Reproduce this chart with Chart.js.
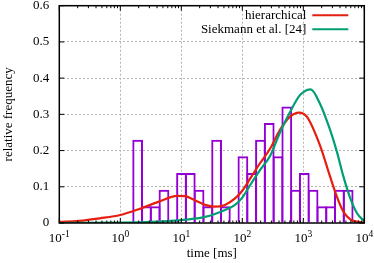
<!DOCTYPE html>
<html>
<head>
<meta charset="utf-8">
<script src="https://cdn.jsdelivr.net/npm/chart.js@4.4.1/dist/chart.umd.min.js"></script>
<style>
  body { margin: 0; background: #fff; }
  #wrap { width: 374px; height: 263px; }
</style>
</head>
<body>
<div id="wrap"><canvas id="chart" width="374" height="263"></canvas></div>
<script>
// histogram: bin centres [ms] and relative frequency of each bin
var binCentres = [1.925, 2.681, 3.733, 5.198, 7.239, 10.08, 14.04, 19.55, 27.22, 37.90,
                  52.79, 73.50, 102.3, 142.5, 198.5, 276.4, 384.8, 535.9, 746.2, 1039,
                  1447, 2015, 2806, 3907, 5441];
var binHeights = [0.23, 0.046, 0.046, 0.092, 0, 0.138, 0.138, 0.092, 0.046, 0.23,
                  0.046, 0, 0.184, 0.138, 0.23, 0.276, 0.184, 0.322, 0.092, 0.138,
                  0.092, 0.046, 0.046, 0.092, 0.092];

// fitted densities
var hierTimes  = [0.1, 0.21, 0.46, 1, 2, 4.3, 8.5, 11.5, 16.6, 24.5, 35.5, 52, 76, 100,
                  135, 195, 285, 415, 600, 850, 1150, 1870, 2750, 3550, 4550, 5900, 7600, 10000];
var hierValues = [0.003, 0.006, 0.013, 0.022, 0.038, 0.059, 0.075, 0.074, 0.063, 0.050, 0.045,
                  0.050, 0.068, 0.089, 0.123, 0.165, 0.205, 0.257, 0.293, 0.305, 0.293, 0.215,
                  0.128, 0.073, 0.031, 0.010, 0.004, 0.001];
var siekTimes  = [0.1, 1, 3.2, 10, 16.6, 24.5, 35.5, 52, 76, 100, 135, 195, 285, 415, 600,
                  880, 1150, 1320, 1870, 2750, 3550, 4550, 5900, 7600, 10000];
var siekValues = [0.000, 0.001, 0.003, 0.008, 0.012, 0.017, 0.025, 0.036, 0.050, 0.070, 0.105,
                  0.146, 0.185, 0.250, 0.305, 0.353, 0.367, 0.369, 0.330, 0.257, 0.197, 0.128,
                  0.068, 0.027, 0.005];

var xTicks = [0.1, 1, 10, 100, 1000, 10000];
var xTickExps = ['-1', '0', '1', '2', '3', '4'];
var seriesNames = ['hierarchical', 'Siekmann et al. [24]'];

var PURPLE = '#9400d3', RED = '#e51e10', GREEN = '#009e73';
var serif = "'Liberation Serif', 'Times New Roman', serif";

function pairs(xs, ys) {
  return xs.map(function (x, i) { return { x: x, y: ys[i] }; });
}

function gridColor(first, last) {
  return function (c) {
    var v = c.tick && c.tick.value;
    return (v === first || v === last) ? 'rgba(0,0,0,0)' : '#b4b4b4';
  };
}

// border, inward tick marks, 10^n labels and the key, gnuplot style
var framePlugin = {
  id: 'frame',
  afterDatasetsDraw: function (chart) {
    var ctx = chart.ctx, a = chart.chartArea;
    var xs = chart.scales.x, ys = chart.scales.y;
    ctx.save();
    ctx.strokeStyle = '#000';
    ctx.lineWidth = 1;
    ctx.beginPath();
    xTicks.forEach(function (v, i) {
      var px = xs.getPixelForValue(v);
      ctx.moveTo(px, a.bottom); ctx.lineTo(px, a.bottom - 5);
      ctx.moveTo(px, a.top); ctx.lineTo(px, a.top + 5);
      if (i < xTicks.length - 1) {
        for (var m = 2; m < 10; m++) {
          var mx = xs.getPixelForValue(v * m);
          ctx.moveTo(mx, a.bottom); ctx.lineTo(mx, a.bottom - 2.5);
          ctx.moveTo(mx, a.top); ctx.lineTo(mx, a.top + 2.5);
        }
      }
    });
    ys.ticks.forEach(function (t) {
      var py = ys.getPixelForValue(t.value);
      ctx.moveTo(a.left, py); ctx.lineTo(a.left + 5, py);
      ctx.moveTo(a.right, py); ctx.lineTo(a.right - 5, py);
    });
    ctx.stroke();
    ctx.lineWidth = 1.5;
    ctx.strokeRect(a.left, a.top, a.right - a.left, a.bottom - a.top);

    // x tick labels with superscript exponent
    ctx.fillStyle = '#000';
    ctx.textBaseline = 'alphabetic';
    ctx.textAlign = 'left';
    xTicks.forEach(function (v, i) {
      var px = xs.getPixelForValue(v);
      ctx.font = '13px ' + serif;
      var wb = ctx.measureText('10').width;
      ctx.font = '9.5px ' + serif;
      var we = ctx.measureText(xTickExps[i]).width;
      var x0 = px - (wb + we) / 2;
      ctx.font = '13px ' + serif;
      ctx.fillText('10', x0, a.bottom + 19);
      ctx.font = '9.5px ' + serif;
      ctx.fillText(xTickExps[i], x0 + wb, a.bottom + 13.5);
    });
    ctx.restore();
  },
  afterDraw: function (chart) {
    var ctx = chart.ctx, a = chart.chartArea;
    ctx.save();
    ctx.font = '13px ' + serif;
    ctx.textAlign = 'right';
    ctx.textBaseline = 'middle';
    [1, 2].forEach(function (di, row) {
      var ds = chart.data.datasets[di];
      var y = a.top + 9.6 + row * 14;
      ctx.fillStyle = '#000';
      ctx.fillText(ds.label, a.right - 58, y);
      ctx.strokeStyle = ds.borderColor;
      ctx.lineWidth = 2;
      ctx.beginPath();
      ctx.moveTo(a.right - 52, y);
      ctx.lineTo(a.right - 16, y);
      ctx.stroke();
    });
    ctx.restore();
  }
};

new Chart(document.getElementById('chart'), {
  type: 'bar',
  data: {
    datasets: [{
      label: 'histogram',
      data: pairs(binCentres, binHeights),
      backgroundColor: 'rgba(0,0,0,0)',
      borderColor: PURPLE,
      borderWidth: 2,
      borderSkipped: 'start',
      inflateAmount: 0,
      barPercentage: 1,
      categoryPercentage: 1.228,  // bars overlap by one border width, like a stroked outline
      order: 3
    }, {
      type: 'line',
      label: seriesNames[0],
      data: pairs(hierTimes, hierValues),
      borderColor: RED,
      borderWidth: 2.2,
      pointRadius: 0,
      fill: false,
      cubicInterpolationMode: 'monotone',
      order: 2
    }, {
      type: 'line',
      label: seriesNames[1],
      data: pairs(siekTimes, siekValues),
      borderColor: GREEN,
      borderWidth: 2.2,
      pointRadius: 0,
      fill: false,
      cubicInterpolationMode: 'monotone',
      order: 1
    }]
  },
  options: {
    responsive: false,
    animation: false,
    layout: { padding: { left: 0, right: 9.7, top: 5.7, bottom: 0 } },
    plugins: { legend: { display: false }, tooltip: { enabled: false } },
    scales: {
      x: {
        type: 'logarithmic',
        min: 0.1,
        max: 10000,
        offset: false,
        afterBuildTicks: function (scale) {
          scale.ticks = xTicks.map(function (v) { return { value: v }; });
        },
        afterFit: function (scale) {
          scale.height = 40;
          scale.paddingLeft = 0;
          scale.paddingRight = 0;
        },
        ticks: { display: false },
        grid: { offset: false, drawTicks: false, color: gridColor(0.1, 10000), lineWidth: 1 },
        border: { display: false, dash: [2, 2] },
        title: {
          display: true,
          text: 'time [ms]',
          color: '#000',
          font: { family: serif, size: 13 },
          padding: { top: 0, bottom: 2 }
        }
      },
      y: {
        min: 0,
        max: 0.6,
        afterFit: function (scale) {
          scale.width = 59.3;
          scale.paddingTop = 0;
          scale.paddingBottom = 0;
        },
        ticks: {
          stepSize: 0.1,
          padding: 10,
          color: '#000',
          font: { family: serif, size: 13 }
        },
        grid: { drawTicks: false, color: gridColor(0, 0.6), lineWidth: 1 },
        border: { display: false, dash: [2, 2] },
        title: {
          display: true,
          text: 'relative frequency',
          color: '#000',
          font: { family: serif, size: 13 },
          padding: { top: 1, bottom: 0 }
        }
      }
    }
  },
  plugins: [framePlugin]
});
</script>
</body>
</html>
